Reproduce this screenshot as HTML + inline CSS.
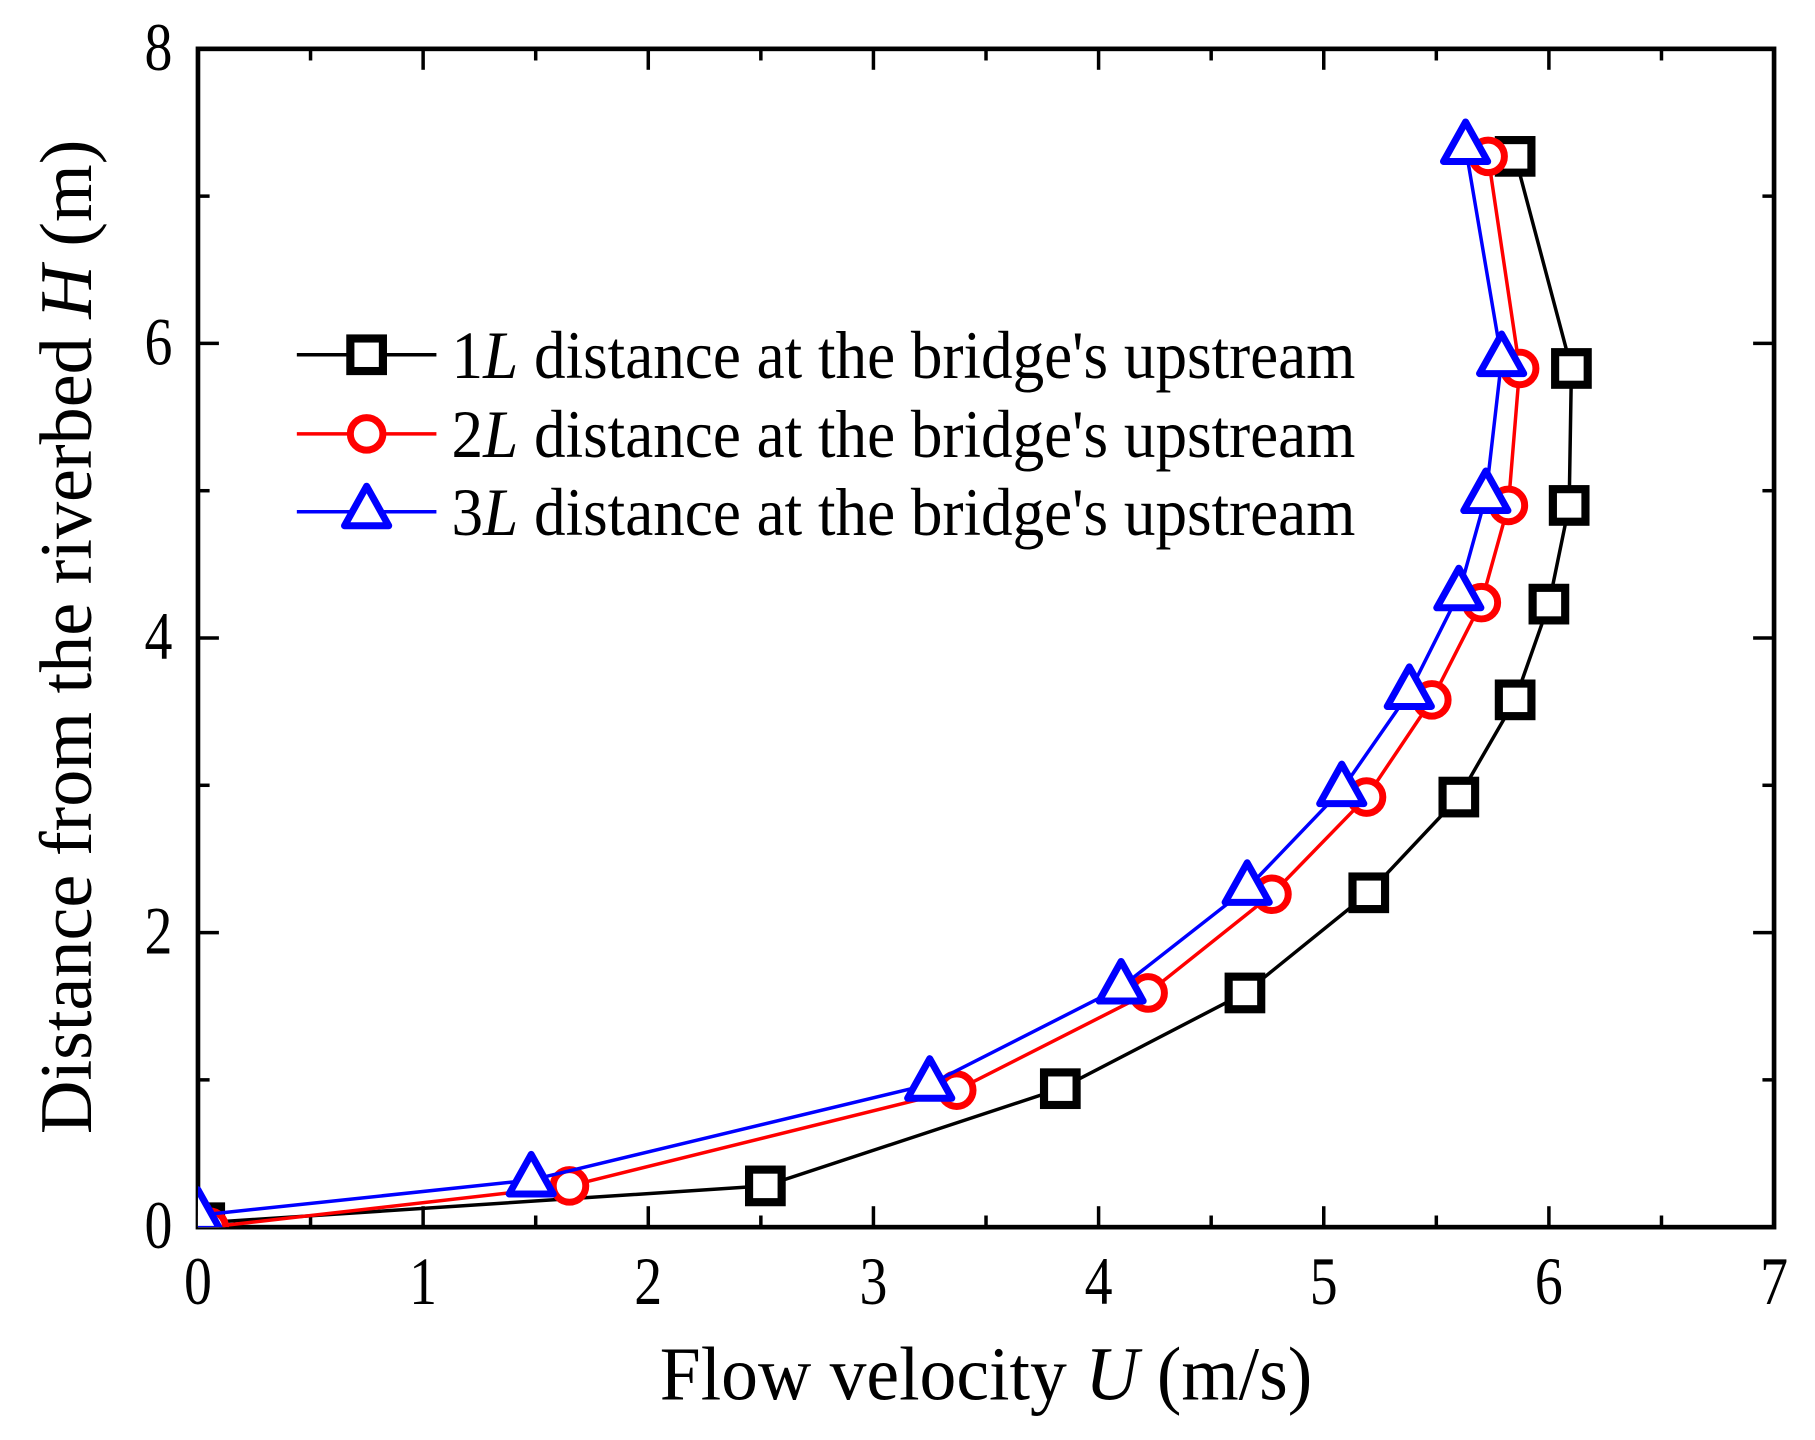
<!DOCTYPE html>
<html><head><meta charset="utf-8"><style>
html,body{margin:0;padding:0;background:#fff;}
svg{display:block;}
text{font-family:"Liberation Serif","DejaVu Serif",serif;fill:#000;}
</style></head><body>
<svg id="chart" width="1815" height="1440" viewBox="0 0 1560 1238" xmlns="http://www.w3.org/2000/svg">
<defs><clipPath id="plotclip"><rect x="170" y="42" width="1355" height="1013"/></clipPath></defs>
<g id="axes"></g>
<g id="series" clip-path="url(#plotclip)"></g>
<g id="legend"></g>
</svg>
<script>
const xTicks=[0,1,2,3,4,5,6,7];
const yTicks=[0,2,4,6,8];
const s1U=[0.03,2.52,3.83,4.65,5.2,5.6,5.85,6.0,6.09,6.1,5.85];
const s1H=[0.03,0.28,0.94,1.59,2.27,2.92,3.58,4.23,4.9,5.83,7.27];
const s2U=[0.05,1.65,3.37,4.22,4.77,5.19,5.48,5.7,5.82,5.87,5.73];
const s2H=[0.0,0.28,0.93,1.59,2.26,2.92,3.58,4.24,4.9,5.83,7.27];
const s3U=[0.0,1.48,3.25,4.1,4.66,5.08,5.38,5.6,5.72,5.79,5.63];
const s3H=[0.08,0.32,0.97,1.63,2.3,2.97,3.63,4.3,4.96,5.89,7.33];
const legendLabels=["1","2","3"];

const NS="http://www.w3.org/2000/svg";
const X0=170,X1=1525,Y0=1055,Y1=42;
const xs=u=>X0+(X1-X0)*u/7;
const ys=h=>Y0-(Y0-Y1)*h/8;
function mk(tag,attrs,parent){const e=document.createElementNS(NS,tag);for(const k in attrs)e.setAttribute(k,attrs[k]);parent.appendChild(e);return e;}
const axes=document.getElementById('axes');
const frame=mk('rect',{x:X0,y:Y1,width:X1-X0,height:Y0-Y1,fill:'none',stroke:'#000','stroke-width':4},axes);


for(let v=0;v<=7;v+=0.5){const x=xs(v);const L=(v%1===0)?18:10;
 mk('line',{x1:x,y1:Y0,x2:x,y2:Y0-L,stroke:'#000','stroke-width':3},axes);
 mk('line',{x1:x,y1:Y1,x2:x,y2:Y1+L,stroke:'#000','stroke-width':3},axes);}
xTicks.forEach(v=>{const t=mk('text',{x:xs(v),y:Y0+66,'font-size':58,'text-anchor':'middle',textLength:24,lengthAdjust:'spacingAndGlyphs'},axes);t.textContent=v;
 
 });
for(let v=0;v<=8;v+=1){const y=ys(v);const L=(v%2===0)?18:10;
 mk('line',{x1:X0,y1:y,x2:X0+L,y2:y,stroke:'#000','stroke-width':3},axes);
 mk('line',{x1:X1,y1:y,x2:X1-L,y2:y,stroke:'#000','stroke-width':3},axes);}
yTicks.forEach(v=>{const t=mk('text',{x:X0-22,y:ys(v)+18,'font-size':58,'text-anchor':'end',textLength:24,lengthAdjust:'spacingAndGlyphs'},axes);t.textContent=v;
 
 });
const xt=mk('text',{x:567,y:1203,'font-size':66,textLength:561,lengthAdjust:'spacingAndGlyphs'},axes);
xt.innerHTML='Flow velocity <tspan font-style="italic">U</tspan> (m/s)';


const yt=mk('text',{x:0,y:0,'font-size':64,textLength:855,lengthAdjust:'spacingAndGlyphs',transform:'translate(78,975) rotate(-90)'},axes);
yt.innerHTML='Distance from the riverbed <tspan font-style="italic">H</tspan> (m)';



function marker(kind,x,y,color,parent){
 if(kind==='sq') return mk('rect',{x:x-14,y:y-14,width:28,height:28,fill:'#fff',stroke:color,'stroke-width':7},parent);
 if(kind==='ci') return mk('circle',{cx:x,cy:y,r:14,fill:'#fff',stroke:color,'stroke-width':6},parent);
 return mk('polygon',{points:`${x},${y-22} ${x-19},${y+12} ${x+19},${y+12}`,fill:'#fff',stroke:color,'stroke-width':6,'stroke-linejoin':'round'},parent);
}
const series=[{u:s1U,h:s1H,c:'#000',k:'sq',n:'series-1l'},{u:s2U,h:s2H,c:'#ff0000',k:'ci',n:'series-2l'},{u:s3U,h:s3H,c:'#0000ff',k:'tr',n:'series-3l'}];
const sg=document.getElementById('series');
series.forEach(s=>{const g=mk('g',{},sg);
 
 
 const pl=mk('polyline',{points:s.u.map((u,i)=>xs(u)+','+ys(s.h[i])).join(' '),fill:'none',stroke:s.c,'stroke-width':3},g);
 
 
 s.u.forEach((u,i)=>{const m=marker(s.k,xs(u),ys(s.h[i]),s.c,g);
  
  });
});
const lg=document.getElementById('legend');


[305,373,440].forEach((y,i)=>{const s=series[i];const g=mk('g',{},lg);
 
 
 mk('line',{x1:255,y1:y,x2:375,y2:y,stroke:s.c,'stroke-width':3},g);
 marker(s.k,315,y,s.c,g);
 const t=mk('text',{x:388,y:y+20,'font-size':58,textLength:777,lengthAdjust:'spacingAndGlyphs'},g);
 t.innerHTML=legendLabels[i]+'<tspan font-style="italic">L</tspan> distance at the bridge\'s upstream';
});
</script>
</body></html>
